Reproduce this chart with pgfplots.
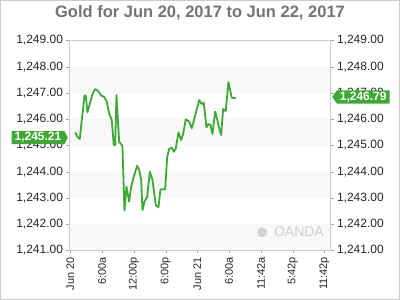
\documentclass[border=0pt]{standalone}
\usepackage{fontspec}
\setmainfont{Liberation Sans}
\usepackage{pgfplots}
\pgfplotsset{compat=1.18}
\usetikzlibrary{shapes.symbols}
\definecolor{lg}{HTML}{3CAA32}
\definecolor{band}{HTML}{F8F8F8}
\definecolor{frame}{HTML}{CCCCCC}
\begin{document}
\begin{tikzpicture}
\useasboundingbox (0pt,0pt) rectangle (400pt,300pt);
\draw[color=frame, line width=1pt] (0.5pt,0.5pt) rectangle (399.5pt,299.5pt);
\node[font=\bfseries\fontsize{16.5}{18}\selectfont, text=black!55] at (200pt,287.5pt) {Gold for Jun 20, 2017 to Jun 22, 2017};
\begin{axis}[at={(69.5pt,49.5pt)}, anchor=south west, scale only axis,
  width=261pt, height=210pt,
  xmin=-0.03, xmax=8.19, ymin=1241, ymax=1249,
  axis line style={frame}, axis on top, clip=false,
  ytick={1241,1242,...,1249}, xtick={0,...,8},
  xticklabels={Jun 20,6:00a,12:00p,6:00p,Jun 21,6:00a,11:42a,5:42p,11:42p},
  x tick label style={rotate=90, anchor=east, font=\fontsize{11}{11}\selectfont, text=black!85},
  y tick label style={font=\fontsize{12}{12}\selectfont, text=black!85},
  tick align=outside, major tick length=3pt, tick style={black!35},
  xtick pos=bottom, ytick pos=left,
  yticklabel style={/pgf/number format/.cd, fixed, fixed zerofill, precision=2, 1000 sep={,}, assume math mode=true},
]
\fill[band] (axis cs:-0.03,1241) rectangle (axis cs:8.19,1242);
\fill[band] (axis cs:-0.03,1243) rectangle (axis cs:8.19,1244);
\fill[band] (axis cs:-0.03,1245) rectangle (axis cs:8.19,1246);
\fill[band] (axis cs:-0.03,1247) rectangle (axis cs:8.19,1248);
\fill[black!18] (axis cs:6.04,1241.7) circle (5pt);
\node[font=\fontsize{14}{14}\selectfont, text=black!18, anchor=west] at (axis cs:6.3,1241.7) {OANDA};
\addplot[color=lg, line width=1.8pt, line join=round] coordinates {
(0.148,1245.50) (0.230,1245.31) (0.293,1245.25) (0.441,1246.90) (0.482,1246.90)
(0.535,1246.26) (0.608,1246.58) (0.693,1246.96) (0.778,1247.15) (0.841,1247.11)
(0.923,1246.99) (0.967,1246.90) (1.049,1246.86) (1.134,1246.71) (1.219,1246.23)
(1.301,1245.97) (1.364,1245.02) (1.408,1245.02) (1.449,1246.92) (1.534,1245.14)
(1.616,1245.02) (1.638,1244.95) (1.701,1242.52) (1.764,1243.43) (1.849,1242.86)
(1.912,1243.43) (1.994,1243.81) (2.101,1244.23) (2.164,1244.07) (2.227,1243.69)
(2.268,1242.54) (2.331,1242.86) (2.416,1243.03) (2.498,1244.00) (2.583,1243.69)
(2.687,1242.73) (2.772,1242.65) (2.835,1243.33) (2.983,1243.33) (3.046,1244.55)
(3.109,1244.87) (3.191,1244.92) (3.254,1244.76) (3.317,1244.89) (3.402,1245.49)
(3.487,1245.21) (3.550,1245.44) (3.631,1246.00) (3.739,1245.91) (3.820,1245.66)
(3.865,1245.85) (3.946,1246.23) (4.054,1246.73) (4.135,1246.58) (4.198,1246.63)
(4.283,1245.69) (4.346,1245.82) (4.409,1245.78) (4.472,1245.44) (4.557,1246.29)
(4.620,1246.00) (4.683,1245.66) (4.746,1245.40) (4.809,1246.39) (4.891,1246.31)
(4.976,1247.41) (5.080,1246.82) (5.206,1246.80)
};
\coordinate (Lcall) at (axis cs:-0.03,1245.30);
\coordinate (Rcall) at (axis cs:8.19,1246.85);
\end{axis}
\begin{axis}[at={(69.5pt,49.5pt)}, anchor=south west, scale only axis,
  width=261pt, height=210pt,
  xmin=-0.03, xmax=8.19, ymin=1241, ymax=1249,
  axis line style={frame}, hide x axis, axis y line*=right,
  ytick={1241,1242,...,1249},
  y tick label style={font=\fontsize{12}{12}\selectfont, text=black!85},
  tick align=outside, major tick length=3pt, tick style={black!35},
  yticklabel style={/pgf/number format/.cd, fixed, fixed zerofill, precision=2, 1000 sep={,}, assume math mode=true},
]
\end{axis}
\node[signal, signal to=east, signal pointer angle=125, fill=lg, text=white,
  font=\bfseries\fontsize{12}{12}\selectfont, inner xsep=3pt, inner ysep=1.5pt,
  minimum height=12pt, anchor=east, xshift=-1.5pt] at (Lcall) {1,245.21};
\node[signal, signal to=west, signal pointer angle=110, fill=lg, text=white,
  font=\bfseries\fontsize{12}{12}\selectfont, inner xsep=3pt, inner ysep=1.5pt,
  minimum height=12pt, anchor=west, xshift=1.5pt] at (Rcall) {1,246.79};
\end{tikzpicture}
\end{document}
